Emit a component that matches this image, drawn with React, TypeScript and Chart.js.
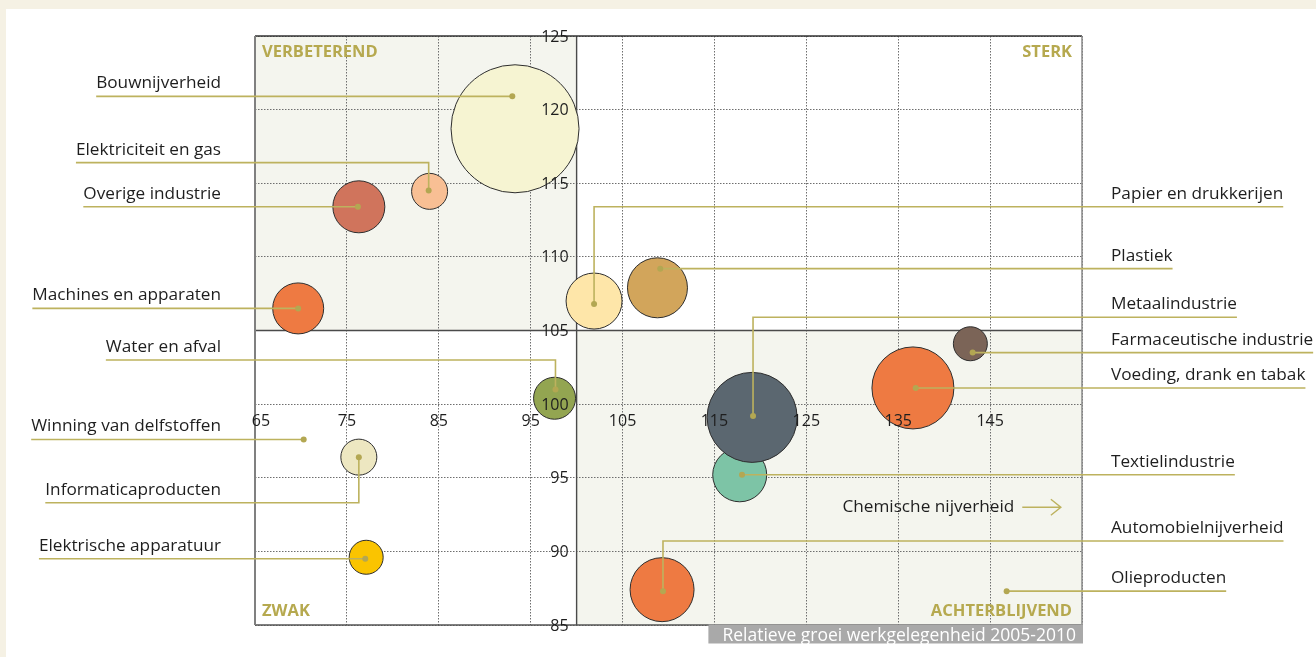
import React, { useEffect, useRef } from "react";
import { Chart, registerables } from "chart.js";

Chart.register(...registerables);

// ---------- data ----------
const xTickLabels = [65, 75, 85, 95, 105, 115, 125, 135, 145];
const xGridValues = [65, 75, 85, 95, 105, 115, 125, 135, 145, 155];
const yTickLabels = [85, 90, 95, 100, 105, 110, 115, 120, 125];
const xMin = 65;
const xMax = 155;
const yMin = 85;
const yMax = 125;
const dividerX = 100;
const dividerY = 105;
const xLabelRowY = 100;
const yLabelColX = 100;

const bubbleSectors = [
  "Bouwnijverheid",
  "Elektriciteit en gas",
  "Overige industrie",
  "Machines en apparaten",
  "Papier en drukkerijen",
  "Plastiek",
  "Textielindustrie",
  "Metaalindustrie",
  "Farmaceutische industrie",
  "Voeding, drank en tabak",
  "Water en afval",
  "Informaticaproducten",
  "Elektrische apparatuur",
  "Automobielnijverheid",
];
const bubbleX = [93.3, 84.0, 76.3, 69.7, 101.9, 108.8, 117.75, 119.1, 142.85, 136.6, 97.6, 76.3, 77.1, 109.3];
const bubbleY = [118.7, 114.45, 113.4, 106.5, 107.0, 107.9, 95.2, 99.1, 104.1, 101.1, 100.4, 96.4, 89.6, 87.4];
const bubbleSize = [64, 18, 26, 25.5, 28, 30, 27, 45, 17, 41, 21, 18, 17, 32];
const bubbleColors = [
  "#f6f4d2",
  "#f8bf94",
  "#d0745c",
  "#ee7a42",
  "#fee6a9",
  "#d2a55b",
  "#7dc4a6",
  "#5b6770",
  "#7b6457",
  "#ee7a42",
  "#93a551",
  "#ede7c1",
  "#fac400",
  "#ee7a42",
];

const labelSectors = [
  "Bouwnijverheid",
  "Elektriciteit en gas",
  "Overige industrie",
  "Machines en apparaten",
  "Water en afval",
  "Winning van delfstoffen",
  "Informaticaproducten",
  "Elektrische apparatuur",
  "Papier en drukkerijen",
  "Plastiek",
  "Metaalindustrie",
  "Farmaceutische industrie",
  "Voeding, drank en tabak",
  "Textielindustrie",
  "Automobielnijverheid",
  "Olieproducten",
];
const labelSide = ["left", "left", "left", "left", "left", "left", "left", "left", "right", "right", "right", "right", "right", "right", "right", "right"];
const pointX = [93.0, 83.9, 76.2, 69.7, 97.7, 70.3, 76.3, 77.0, 101.9, 109.1, 119.2, 143.1, 136.9, 118.0, 109.4, 146.8];
const pointY = [120.9, 114.5, 113.4, 106.5, 101.0, 97.6, 96.4, 89.5, 106.8, 109.2, 99.2, 103.5, 101.1, 95.2, 87.3, 87.3];
const leaderY = [120.9, 116.4, 113.4, 106.5, 103.0, 97.6, 93.3, 89.5, 113.4, 109.2, 105.9, 103.5, 101.1, 95.2, 90.7, 87.3];

const offChartLabel = "Chemische nijverheid";
const offChartArrowFrom = 148.5;
const offChartArrowTo = 152.7;
const offChartY = 93.0;

const quadrantLabels = ["VERBETEREND", "STERK", "ZWAK", "ACHTERBLIJVEND"];
const xAxisTitle = "Relatieve groei werkgelegenheid 2005-2010";

// ---------- styles ----------
const FONT = '"Open Sans", "DejaVu Sans", sans-serif';
const LEADER = "#bdb25e";
const DOT = "#b3a752";
const QUAD = "#b6a94f";
const TEXT = "#1e1e1e";

const overlayPlugin = {
  id: "overlay",
  beforeDraw(chart: any) {
    const { ctx, chartArea: a, scales } = chart;
    const x = scales.x;
    const y = scales.y;
    ctx.save();
    ctx.fillStyle = "#f5f1e4";
    ctx.fillRect(0, 0, chart.width, chart.height);
    ctx.fillStyle = "#ffffff";
    ctx.fillRect(6, 9, chart.width - 6, chart.height - 9);
    const xd = x.getPixelForValue(dividerX);
    const yd = y.getPixelForValue(dividerY);
    ctx.fillStyle = "#f4f5ee";
    ctx.fillRect(a.left, a.top, xd - a.left, yd - a.top);
    ctx.fillRect(xd, yd, a.right - xd, a.bottom - yd);
    ctx.restore();
  },
  beforeDatasetsDraw(chart: any) {
    const { ctx, chartArea: a, scales } = chart;
    const x = scales.x;
    const y = scales.y;
    const xd = x.getPixelForValue(dividerX);
    const yd = y.getPixelForValue(dividerY);
    ctx.save();
    ctx.setLineDash([]);
    // dividers
    ctx.strokeStyle = "#4a4a4a";
    ctx.lineWidth = 1.4;
    ctx.beginPath();
    ctx.moveTo(xd, a.top);
    ctx.lineTo(xd, a.bottom);
    ctx.moveTo(a.left, yd);
    ctx.lineTo(a.right, yd);
    ctx.stroke();
    // frame
    ctx.strokeStyle = "#333333";
    ctx.lineWidth = 1.5;
    ctx.beginPath();
    ctx.moveTo(a.left, a.top);
    ctx.lineTo(a.right, a.top);
    ctx.stroke();
    ctx.strokeStyle = "#555555";
    ctx.beginPath();
    ctx.moveTo(a.left, a.bottom);
    ctx.lineTo(a.right, a.bottom);
    ctx.stroke();
    ctx.strokeStyle = "#808080";
    ctx.lineWidth = 2;
    ctx.beginPath();
    ctx.moveTo(a.left, a.top);
    ctx.lineTo(a.left, a.bottom);
    ctx.stroke();
    ctx.strokeStyle = "#8a8a8a";
    ctx.lineWidth = 1.5;
    ctx.beginPath();
    ctx.moveTo(a.right, a.top);
    ctx.lineTo(a.right, a.bottom);
    ctx.stroke();
    ctx.restore();
  },
  afterDatasetsDraw(chart: any) {
    const { ctx, chartArea: a, scales } = chart;
    const x = scales.x;
    const y = scales.y;
    ctx.save();
    ctx.setLineDash([]);

    // tick labels
    ctx.font = `16px ${FONT}`;
    ctx.fillStyle = TEXT;
    ctx.textAlign = "right";
    ctx.textBaseline = "middle";
    const yCol = x.getPixelForValue(yLabelColX) - 8;
    yTickLabels.forEach((v) => ctx.fillText(String(v), yCol, y.getPixelForValue(v) + 1));
    ctx.textAlign = "center";
    const xRow = y.getPixelForValue(xLabelRowY) + 17;
    xTickLabels.forEach((v, i) => ctx.fillText(String(v), x.getPixelForValue(v) + (i === 0 ? 6 : 0), xRow));

    // leaders
    const leftTextRight = a.left - 34;
    const rightTextLeft = a.right + 29;
    ctx.font = `17.2px ${FONT}`;
    labelSectors.forEach((name, i) => {
      const px = x.getPixelForValue(pointX[i]);
      const py = y.getPixelForValue(pointY[i]);
      const ly = y.getPixelForValue(leaderY[i]);
      const w = ctx.measureText(name).width;
      const isLeft = labelSide[i] === "left";
      const endX = isLeft ? leftTextRight - w : rightTextLeft + w;
      ctx.strokeStyle = LEADER;
      ctx.lineWidth = 1.6;
      ctx.beginPath();
      ctx.moveTo(px, py);
      if (Math.abs(ly - py) > 0.5) ctx.lineTo(px, ly);
      ctx.lineTo(endX, ly);
      ctx.stroke();
      ctx.fillStyle = DOT;
      ctx.beginPath();
      ctx.arc(px, py, 3, 0, Math.PI * 2);
      ctx.fill();
      ctx.fillStyle = TEXT;
      ctx.textAlign = isLeft ? "right" : "left";
      ctx.textBaseline = "alphabetic";
      ctx.fillText(name, isLeft ? leftTextRight : rightTextLeft, ly - 8);
    });

    // off-chart arrow
    const ax1 = x.getPixelForValue(offChartArrowFrom);
    const ax2 = x.getPixelForValue(offChartArrowTo);
    const ay = y.getPixelForValue(offChartY);
    ctx.fillStyle = TEXT;
    ctx.textAlign = "right";
    ctx.textBaseline = "middle";
    ctx.fillText(offChartLabel, ax1 - 8, ay);
    ctx.strokeStyle = LEADER;
    ctx.lineWidth = 1.4;
    ctx.beginPath();
    ctx.moveTo(ax1, ay);
    ctx.lineTo(ax2, ay);
    ctx.moveTo(ax2 - 10, ay - 8);
    ctx.lineTo(ax2, ay);
    ctx.lineTo(ax2 - 10, ay + 8);
    ctx.stroke();

    // quadrant labels
    ctx.font = `bold 16.5px ${FONT}`;
    ctx.fillStyle = QUAD;
    ctx.textBaseline = "alphabetic";
    ctx.textAlign = "left";
    ctx.fillText(quadrantLabels[0], a.left + 7, a.top + 21);
    ctx.fillText(quadrantLabels[2], a.left + 7, a.bottom - 9);
    ctx.textAlign = "right";
    ctx.fillText(quadrantLabels[1], a.right - 10, a.top + 21);
    ctx.fillText(quadrantLabels[3], a.right - 10, a.bottom - 9);

    // x-axis title box
    ctx.font = `17.5px ${FONT}`;
    const tw = ctx.measureText(xAxisTitle).width;
    const boxRight = a.right + 1;
    const textRight = a.right - 6;
    const boxLeft = textRight - tw - 14;
    ctx.fillStyle = "#a9a9a9";
    ctx.fillRect(boxLeft, a.bottom - 0.5, boxRight - boxLeft, 19);
    ctx.fillStyle = "#ffffff";
    ctx.textAlign = "right";
    ctx.textBaseline = "alphabetic";
    ctx.fillText(xAxisTitle, textRight, a.bottom + 16);

    ctx.restore();
  },
};

export default function App() {
  const canvasRef = useRef<HTMLCanvasElement | null>(null);

  useEffect(() => {
    if (!canvasRef.current) return;
    const chart = new Chart(canvasRef.current, {
      type: "bubble",
      data: {
        labels: bubbleSectors,
        datasets: [
          {
            data: bubbleX.map((v, i) => ({ x: v, y: bubbleY[i], r: bubbleSize[i] })),
            backgroundColor: bubbleColors,
            borderColor: "#2e2e2e",
            borderWidth: 1,
            hoverRadius: 0,
            clip: false,
          },
        ],
      },
      options: {
        animation: false,
        responsive: true,
        maintainAspectRatio: false,
        events: [],
        layout: { autoPadding: false, padding: { left: 255, top: 36, right: 234, bottom: 32 } },
        plugins: {
          legend: { display: false },
          tooltip: { enabled: false },
        },
        scales: {
          x: {
            type: "linear",
            min: xMin,
            max: xMax,
            afterBuildTicks: (s: any) => {
              s.ticks = xGridValues.map((v) => ({ value: v }));
            },
            ticks: { display: false },
            grid: { color: "#6e6e6e", lineWidth: 1, drawTicks: false },
            border: { display: false, dash: [1.5, 1.5] },
          },
          y: {
            type: "linear",
            min: yMin,
            max: yMax,
            afterBuildTicks: (s: any) => {
              s.ticks = yTickLabels.map((v) => ({ value: v }));
            },
            ticks: { display: false },
            grid: { color: "#6e6e6e", lineWidth: 1, drawTicks: false },
            border: { display: false, dash: [1.5, 1.5] },
          },
        },
      },
      plugins: [overlayPlugin],
    } as any);
    return () => chart.destroy();
  }, []);

  return (
    <div style={{ position: "fixed", left: 0, top: 0, width: 1316, height: 657 }}>
      <canvas ref={canvasRef} />
    </div>
  );
}
